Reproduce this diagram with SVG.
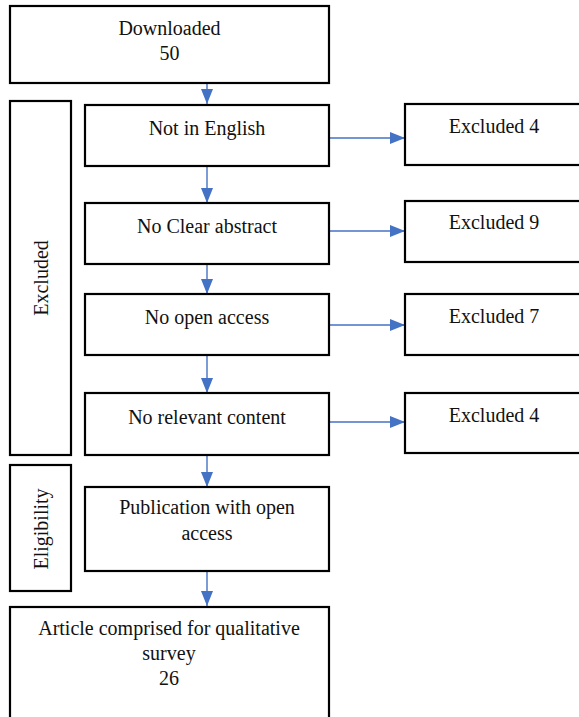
<svg xmlns="http://www.w3.org/2000/svg" width="579" height="717" viewBox="0 0 579 717">
<style>
.box{fill:#fff;stroke:#000;stroke-width:2.2}
.t{font-family:"Liberation Serif","Times New Roman",serif;font-size:20px;fill:#111;text-anchor:middle}
.c{stroke:#4472C4;stroke-width:1.4;fill:none}
</style>
<defs>
<marker id="ah" viewBox="0 0 15 12" refX="15" refY="6" markerWidth="15" markerHeight="12" markerUnits="userSpaceOnUse" orient="auto">
<path d="M0,0 L15,6 L0,12 z" fill="#4472C4"/>
</marker>
</defs>
<rect width="579" height="717" fill="#fff"/>
<g id="connectors">
<line class="c" x1="207" y1="84" x2="207" y2="104" marker-end="url(#ah)"/>
<line class="c" x1="207" y1="167" x2="207" y2="203" marker-end="url(#ah)"/>
<line class="c" x1="207" y1="265" x2="207" y2="294" marker-end="url(#ah)"/>
<line class="c" x1="207" y1="356" x2="207" y2="393" marker-end="url(#ah)"/>
<line class="c" x1="207" y1="456" x2="207" y2="487" marker-end="url(#ah)"/>
<line class="c" x1="207" y1="572" x2="207" y2="606" marker-end="url(#ah)"/>
<line class="c" x1="330" y1="138" x2="405" y2="138" marker-end="url(#ah)"/>
<line class="c" x1="330" y1="231" x2="405" y2="231" marker-end="url(#ah)"/>
<line class="c" x1="330" y1="325" x2="405" y2="325" marker-end="url(#ah)"/>
<line class="c" x1="330" y1="422" x2="405" y2="422" marker-end="url(#ah)"/>
</g>
<g id="downloaded">
<rect class="box" x="10" y="6" width="319" height="77"/>
<text class="t" x="169.5" y="35">Downloaded</text>
<text class="t" x="169.5" y="60">50</text>
</g>
<g id="excluded-label">
<rect class="box" x="10" y="101" width="61" height="354"/>
<text class="t" transform="translate(48,278) rotate(-90)">Excluded</text>
</g>
<g id="not-english">
<rect class="box" x="85" y="105" width="244" height="61"/>
<text class="t" x="207" y="135">Not in English</text>
</g>
<g id="excl4a">
<rect class="box" x="405" y="104" width="178" height="61"/>
<text class="t" x="494" y="133">Excluded 4</text>
</g>
<g id="no-abstract">
<rect class="box" x="85" y="203" width="244" height="61"/>
<text class="t" x="207" y="233">No Clear abstract</text>
</g>
<g id="excl9">
<rect class="box" x="405" y="201" width="178" height="61"/>
<text class="t" x="494" y="229">Excluded 9</text>
</g>
<g id="no-open">
<rect class="box" x="85" y="294" width="244" height="61"/>
<text class="t" x="207" y="324">No open access</text>
</g>
<g id="excl7">
<rect class="box" x="405" y="294" width="178" height="61"/>
<text class="t" x="494" y="323">Excluded 7</text>
</g>
<g id="no-relevant">
<rect class="box" x="85" y="393" width="244" height="62"/>
<text class="t" x="207" y="424">No relevant content</text>
</g>
<g id="excl4b">
<rect class="box" x="405" y="393" width="178" height="60"/>
<text class="t" x="494" y="422">Excluded 4</text>
</g>
<g id="eligibility-label">
<rect class="box" x="10" y="465" width="61" height="126"/>
<text class="t" transform="translate(48,529) rotate(-90)">Eligibility</text>
</g>
<g id="publication">
<rect class="box" x="85" y="487" width="244" height="84"/>
<text class="t" x="207" y="514">Publication with open</text>
<text class="t" x="207" y="540">access</text>
</g>
<g id="article">
<rect class="box" x="10" y="607" width="319" height="120"/>
<text class="t" x="169" y="635">Article comprised for qualitative</text>
<text class="t" x="169" y="660">survey</text>
<text class="t" x="169" y="685">26</text>
</g>
</svg>
